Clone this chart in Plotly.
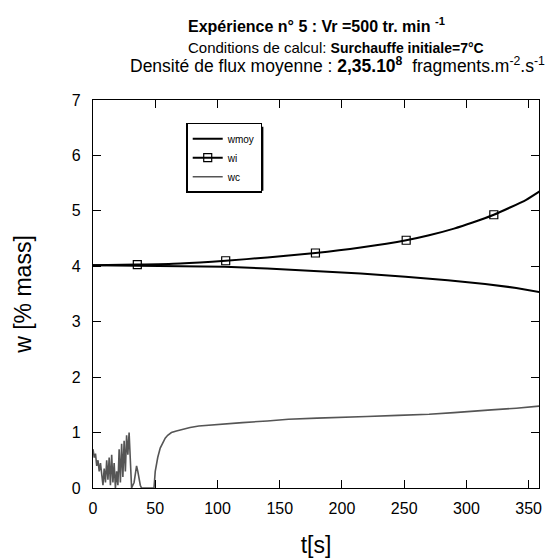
import plotly.graph_objects as go

# wmoy (lower black line)
t_wmoy = [0, 35, 70, 106, 140, 178, 215, 251, 285, 315, 340, 360]
w_moy = [4.02, 4.01, 3.99, 3.99, 3.96, 3.92, 3.87, 3.81, 3.75, 3.68, 3.61, 3.53]

# wi (upper line with square markers)
t_wi = [0, 35.6, 70, 106.6, 140, 178.7, 215, 251.6, 270, 290, 305, 322, 335, 348, 360]
w_i = [4.02, 4.03, 4.05, 4.10, 4.16, 4.24, 4.34, 4.47, 4.56, 4.68, 4.79, 4.93, 5.06, 5.20, 5.37]
t_wi_markers = [35.6, 106.6, 178.7, 251.6, 322]
w_i_markers = [4.03, 4.10, 4.24, 4.47, 4.93]

# wc (grey line)
t_wc = [0, 1, 2, 3, 4, 5, 6, 7, 8, 9, 10, 11, 12, 13, 14, 15, 16, 17, 18, 19, 20,
        21, 22, 23, 24, 25, 26, 27, 28, 29, 30, 31, 32, 33, 34, 35, 36, 37, 38, 39,
        44, 49, 50, 52, 54, 56, 58, 60, 63, 67, 72, 78, 85, 100, 120, 140, 157,
        180, 200, 220, 245, 270, 290, 306, 320, 340, 360]
w_c = [0.7, 0.55, 0.62, 0.4, 0.5, 0.3, 0.45, 0.2, 0.05, 0.35, 0.1, 0.5, 0.15, 0.55,
       0.05, 0.6, 0.1, 0.45, 0.0, 0.3, 0.05, 0.7, 0.1, 0.8, 0.2, 0.85, 0.3, 0.95,
       0.6, 1.0, 0.5, 0.0, 0.05, 0.1, 0.25, 0.4, 0.3, 0.15, 0.05, 0.0,
       0.0, 0.0, 0.3, 0.55, 0.72, 0.82, 0.9, 0.95, 1.0, 1.03, 1.06, 1.09, 1.12,
       1.15, 1.18, 1.21, 1.24, 1.26, 1.27, 1.29, 1.31, 1.33, 1.36, 1.39, 1.41,
       1.44, 1.48]

x_ticks = [0, 50, 100, 150, 200, 250, 300, 350]
y_ticks = [0, 1, 2, 3, 4, 5, 6, 7]

FONT = "Liberation Sans, Arial, sans-serif"

fig = go.Figure()
fig.add_trace(go.Scatter(x=t_wmoy, y=w_moy, mode="lines", name="wmoy",
                         line=dict(color="black", width=2)))
fig.add_trace(go.Scatter(x=t_wi, y=w_i, mode="lines", name="wi",
                         line=dict(color="black", width=2, shape="spline", smoothing=0.6),
                         showlegend=False))
fig.add_trace(go.Scatter(x=t_wi_markers, y=w_i_markers, mode="markers", name="wi",
                         marker=dict(symbol="square-open", size=8, color="black",
                                     line=dict(width=1.2)),
                         showlegend=False))
# legend-only entry for wi (line + marker)
fig.add_trace(go.Scatter(x=[None], y=[None], mode="lines+markers", name="wi",
                         line=dict(color="black", width=2),
                         marker=dict(symbol="square-open", size=8, color="black",
                                     line=dict(width=1.2))))
fig.add_trace(go.Scatter(x=t_wc, y=w_c, mode="lines", name="wc",
                         line=dict(color="#555555", width=1.6)))

fig.update_layout(
    width=547, height=558,
    margin=dict(l=93, r=5, t=100, b=65),
    plot_bgcolor="white", paper_bgcolor="white",
    font=dict(family=FONT, color="black", size=16),
    legend=dict(x=0.209, y=0.9415, xanchor="left", yanchor="top",
                bgcolor="white", bordercolor="black", borderwidth=1.5,
                font=dict(size=10, family=FONT), tracegroupgap=0,
                itemwidth=30),
    xaxis=dict(range=[0, 358.3], tickvals=x_ticks, ticks="inside", ticklen=8,
               tickcolor="black", tickwidth=1,
               showline=True, linecolor="black", linewidth=1.2, mirror="ticks",
               showgrid=False, zeroline=False, ticklabelstandoff=6,
               title=dict(text="t[s]", font=dict(size=23), standoff=20),
               tickfont=dict(size=16)),
    yaxis=dict(range=[0, 7], tickvals=y_ticks, ticks="inside", ticklen=8,
               tickcolor="black", tickwidth=1,
               showline=True, linecolor="black", linewidth=1.2, mirror="ticks",
               showgrid=False, zeroline=False, ticklabelstandoff=8,
               title=dict(text="w [% mass]", font=dict(size=23), standoff=33),
               tickfont=dict(size=16)),
)

# legend shadow
fig.add_shape(type="rect", xref="paper", yref="paper",
              x0=0.218, x1=0.382, y0=0.766, y1=0.931,
              fillcolor="black", line=dict(width=0), layer="below")

fig.add_annotation(text="<b>Expérience n° 5 : Vr =500 tr. min <sup>-1</sup></b>",
                   xref="paper", yref="paper", x=0.5, y=1.0, yanchor="middle",
                   yshift=75, showarrow=False, font=dict(size=16, family=FONT))
fig.add_annotation(text="<span style='font-size:15px'>Conditions de calcul: </span><b>Surchauffe initiale=7°C</b>",
                   xref="paper", yref="paper", x=0.5456, y=1.0, yanchor="middle",
                   yshift=53, showarrow=False, font=dict(size=14, family=FONT))
fig.add_annotation(text="Densité de flux moyenne : <b>2,35.10<sup>8</sup></b>  fragments.m<sup>-2</sup>.s<sup>-1</sup>",
                   xref="paper", yref="paper", x=0.549, y=1.0, yanchor="middle",
                   yshift=35, showarrow=False, font=dict(size=17.5, family=FONT))

fig.write_html("out.html",
               config={"displayModeBar": False},
               post_script="document.body.style.margin='0';"
                           "document.body.style.overflow='hidden';"
                           "document.documentElement.style.overflow='hidden';")
